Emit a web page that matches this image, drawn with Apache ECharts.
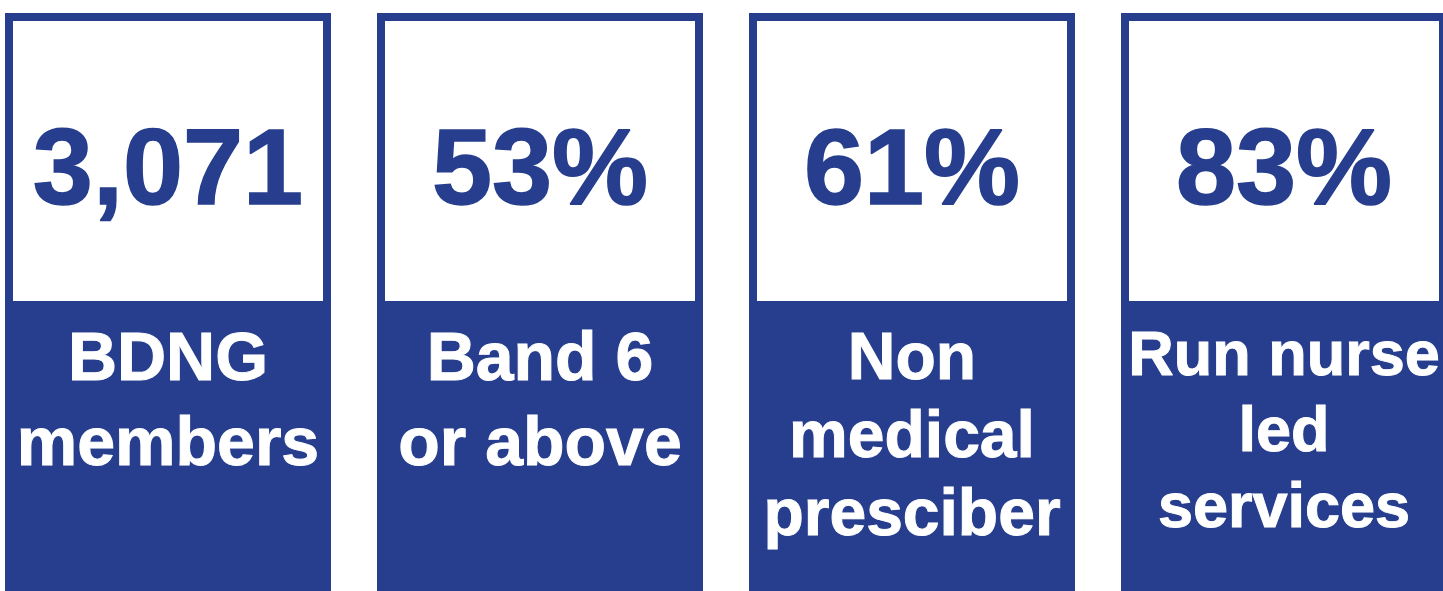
<!DOCTYPE html>
<html>
<head>
<meta charset="utf-8">
<script src="https://cdn.jsdelivr.net/npm/echarts@6/dist/echarts.min.js"></script>
<style>
  html, body { margin: 0; padding: 0; background: #fff; overflow: hidden; }
  /* the row of cards is wider than the window, last card is cut at the right */
  #chart { position: absolute; left: -18px; top: 0; width: 1488px; height: 591px; }
</style>
</head>
<body>
<div id="chart"></div>
<script>
// figures shown in the white top of each card
var figures = ['3,071', '53%', '61%', '83%'];
// captions in the blue bottom of each card
var captions = ['BDNG\nmembers', 'Band 6\nor above', 'Non\nmedical\npresciber', 'Run nurse\nled\nservices'];
var cardKeys = ['members', 'band6', 'prescriber', 'nurseLed'];
// share of the card height: blue panel below, white panel on top
var blueShare = [48.8, 48.8, 48.8, 48.8];
var whiteShare = [51.2, 51.2, 51.2, 51.2];

var BLUE = '#263e8d';
var FONT = 'Liberation Sans, Arial, sans-serif';

// caption type per card (size, line height, gap from top of the blue panel)
var captionFont = [
    {fontSize: 68, lineHeight: 85, distance: 10},
    {fontSize: 68, lineHeight: 85, distance: 10},
    {fontSize: 66, lineHeight: 78, distance: 13},
    {fontSize: 63, lineHeight: 76, distance: 11}
];

var chart = echarts.init(document.getElementById('chart'));

var option = {
    animation: false,
    backgroundColor: '#ffffff',
    grid: {left: 0, right: 0, top: 13, bottom: 0, containLabel: false},
    xAxis: {
        type: 'category',
        data: cardKeys,
        show: false
    },
    yAxis: {
        type: 'value',
        min: 0,
        max: 100,
        show: false
    },
    series: [
        {
            // blue caption panel
            name: 'caption',
            type: 'bar',
            stack: 'card',
            barWidth: 326,
            silent: true,
            data: blueShare.map(function (v, i) {
                return {
                    value: v,
                    label: {
                        show: true,
                        position: 'insideTop',
                        distance: captionFont[i].distance,
                        formatter: captions[i],
                        color: '#ffffff',
                        textBorderColor: '#ffffff',
                        textBorderWidth: 1,
                        fontFamily: FONT,
                        fontWeight: 'bold',
                        fontSize: captionFont[i].fontSize,
                        lineHeight: captionFont[i].lineHeight,
                        align: 'center'
                    }
                };
            }),
            itemStyle: {color: BLUE, borderColor: BLUE, borderWidth: 8}
        },
        {
            // white figure panel
            name: 'figure',
            type: 'bar',
            stack: 'card',
            barWidth: 326,
            silent: true,
            data: whiteShare.map(function (v, i) {
                return {
                    value: v,
                    label: {
                        show: true,
                        position: 'inside',
                        offset: [0, 13],
                        formatter: figures[i],
                        color: BLUE,
                        textBorderColor: BLUE,
                        textBorderWidth: 1.5,
                        fontFamily: FONT,
                        fontWeight: 'bold',
                        fontSize: 108
                    }
                };
            }),
            itemStyle: {color: '#ffffff', borderColor: BLUE, borderWidth: 8}
        }
    ]
};

chart.setOption(option);
</script>
</body>
</html>
